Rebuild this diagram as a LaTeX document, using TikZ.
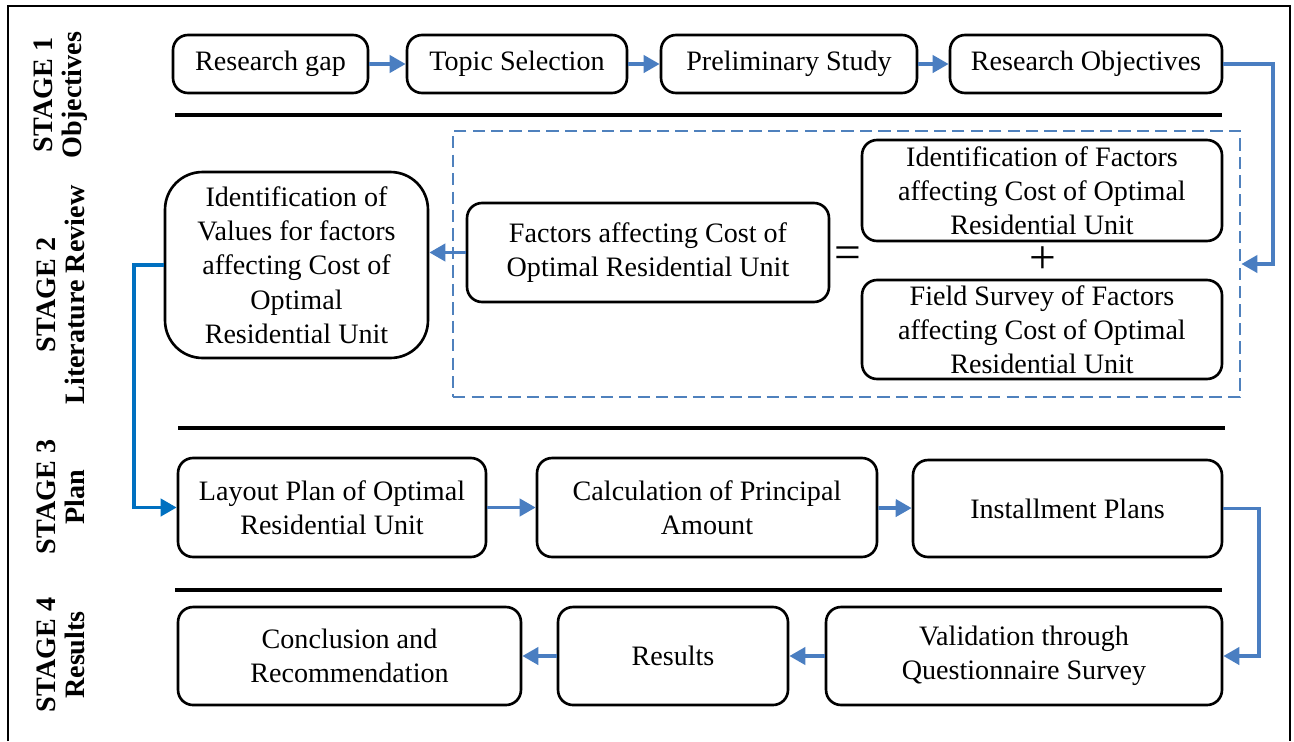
\documentclass[tikz,border=0pt]{standalone}
\usepackage{fontspec}
\setmainfont{Liberation Serif}
\usetikzlibrary{arrows.meta}
\definecolor{flowblue}{RGB}{74,126,193}
\definecolor{linkblue}{RGB}{0,112,192}
\definecolor{dashblue}{RGB}{79,129,189}
\tikzset{
	box/.style={draw, line width=1.5pt, rounded corners=0.3cm, align=center, inner sep=1pt, font=\fontsize{16}{19.5}\selectfont},
	flow/.style={draw=flowblue, line width=2.2pt, -{Triangle[length=0.32cm,width=0.34cm]}},
	stage/.style={rotate=90, align=center, font=\bfseries\fontsize{16}{16.5}\selectfont},
	bar/.style={line width=2.8pt},
	sign/.style={inner sep=0pt, font=\fontsize{27}{27}\selectfont},
}

\begin{document}
\begin{tikzpicture}[x=0.02cm, y=-0.02cm]
			%%%%% START %%%%%
			\useasboundingbox (0,0) rectangle (1294,741);
			
			\draw[line width=1pt] (8,741) -- (8,6) -- (1290,6) -- (1290,741);
			
			% stages
			\node[stage] (s1) at (61,95) {STAGE 1\\Objectives};
			\node[stage] (s2) at (61,295) {STAGE 2\\Literature Review};
			\node[stage] (s3) at (61,497) {STAGE 3\\Plan};
			\node[stage] (s4) at (61,655) {STAGE 4\\Results};
			
			\draw[bar] (175,115) -- (1222,115);
			\draw[bar] (178,428) -- (1225,428);
			\draw[bar] (175,590) -- (1222,590);
			
			% stage 1
			\node[box, minimum width=3.9cm, minimum height=1.16cm] (gap) at (270.5,64) {Research gap};
			\node[box, minimum width=4.4cm, minimum height=1.16cm] (topic) at (517,64) {Topic Selection};
			\node[box, minimum width=5.12cm, minimum height=1.16cm] (prelim) at (789,64) {Preliminary Study};
			\node[box, minimum width=5.44cm, minimum height=1.16cm] (objectives) at (1086,64) {Research Objectives};
			
			% stage 2
			\node[draw=dashblue, line width=1.6pt, dash pattern=on 7pt off 3.5pt, minimum width=15.74cm, minimum height=5.32cm] (litbox) at (846.5,264) {};
			
			\node[box, rounded corners=0.75cm, minimum width=5.26cm, minimum height=3.72cm] (values) at (296.5,265) {Identification of\\Values for factors\\affecting Cost of\\Optimal\\Residential Unit};
			\node[box, minimum width=7.24cm, minimum height=1.98cm] (factors) at (648,252.5) {Factors affecting Cost of\\Optimal Residential Unit};
			\node[box, minimum width=7.2cm, minimum height=2.02cm] (ident) at (1042,190.5) {Identification of Factors\\affecting Cost of Optimal\\Residential Unit};
			\node[box, minimum width=7.2cm, minimum height=1.98cm] (survey) at (1042,329.5) {Field Survey of Factors\\affecting Cost of Optimal\\Residential Unit};
			\node[sign] (eq) at (848,258) {=};
			\node[sign] (plus) at (1043,260) {+};
			
			% stage 3
			\node[box, minimum width=6.16cm, minimum height=1.98cm] (layout) at (332,507.5) {Layout Plan of Optimal\\Residential Unit};
			\node[box, minimum width=6.8cm, minimum height=1.98cm] (calc) at (707,507.5) {Calculation of Principal\\Amount};
			\node[box, minimum width=6.18cm, minimum height=1.94cm] (install) at (1067.5,508.5) {Installment Plans};
			
			% stage 4
			\node[box, minimum width=6.86cm, minimum height=1.96cm] (concl) at (349.5,656) {Conclusion and\\Recommendation};
			\node[box, minimum width=4.6cm, minimum height=1.96cm] (results) at (673,656) {Results};
			\node[box, minimum width=7.92cm, minimum height=1.96cm] (valid) at (1024,656) {Validation through\\Questionnaire Survey};
			
			% arrows
			\draw[flow] (gap) -- (topic);
			\draw[flow] (topic) -- (prelim);
			\draw[flow] (prelim) -- (objectives);
			\draw[flow] (objectives.east) -- ++(50,0) |- (litbox.east);
			\draw[flow] (factors.west) -- (factors.west -| values.east);
			\draw[flow, draw=linkblue] (values.west) -- ++(-30,0) |- (layout.west);
			\draw[flow] (layout) -- (calc);
			\draw[flow] (calc) -- (install);
			\draw[flow] (install.east) -- ++(36,0) |- (valid.east);
			\draw[flow] (valid) -- (results);
			\draw[flow] (results) -- (concl);
			
			%%%%% END %%%%%
\end{tikzpicture}
\end{document}
